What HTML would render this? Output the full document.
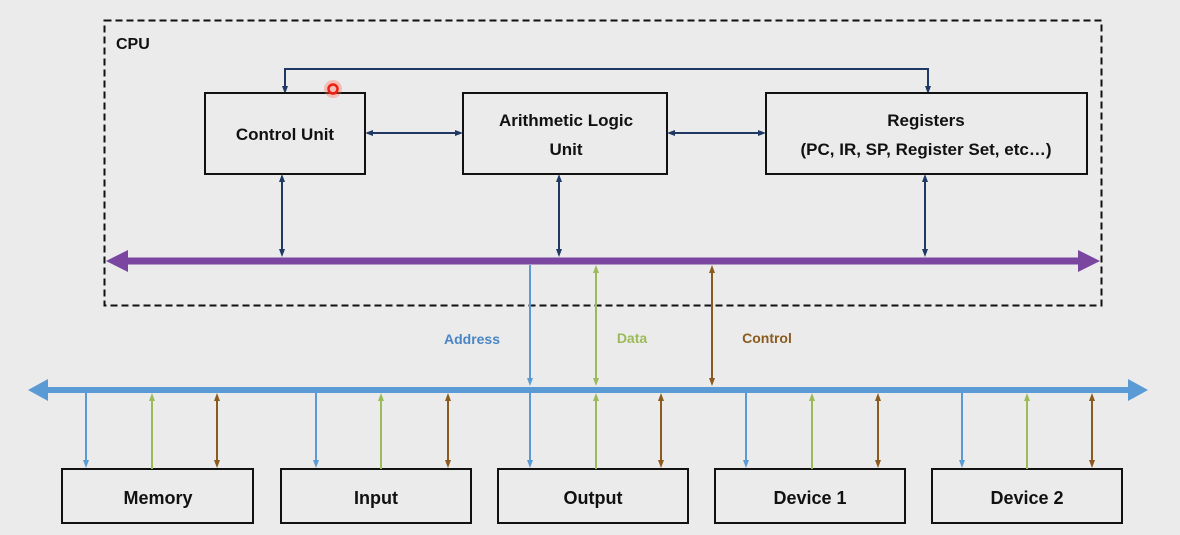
<!DOCTYPE html>
<html><head><meta charset="utf-8"><style>
html,body{margin:0;padding:0;background:#ebebeb;}
svg{display:block;}
text{font-family:"Liberation Sans",sans-serif;font-weight:bold;}
</style></head><body>
<svg width="1180" height="535" viewBox="0 0 1180 535" xmlns="http://www.w3.org/2000/svg">
<defs>
<marker id="n" markerWidth="8" markerHeight="8" refX="4" refY="4" orient="auto-start-reverse" markerUnits="userSpaceOnUse"><path d="M0,1 L8,4 L0,7 z" fill="#1f3864"/></marker>
<marker id="b" markerWidth="8" markerHeight="8" refX="4" refY="4" orient="auto-start-reverse" markerUnits="userSpaceOnUse"><path d="M0,1 L8,4 L0,7 z" fill="#5b9bd5"/></marker>
<marker id="g" markerWidth="8" markerHeight="8" refX="4" refY="4" orient="auto-start-reverse" markerUnits="userSpaceOnUse"><path d="M0,1 L8,4 L0,7 z" fill="#9bbb59"/></marker>
<marker id="r" markerWidth="8" markerHeight="8" refX="4" refY="4" orient="auto-start-reverse" markerUnits="userSpaceOnUse"><path d="M0,1 L8,4 L0,7 z" fill="#8b5a1e"/></marker>
</defs>
<rect x="0" y="0" width="1180" height="535" fill="#ebebeb"/>
<rect x="104.5" y="20.5" width="997" height="285" fill="none" stroke="#111" stroke-width="2" stroke-dasharray="7,4"/>
<text x="116" y="49" font-size="16" fill="#111">CPU</text>
<!-- top feedback -->
<path d="M285,90 L285,69 L928,69 L928,90" fill="none" stroke="#1f3864" stroke-width="2" marker-start="url(#n)" marker-end="url(#n)"/>
<g fill="none" stroke="#111" stroke-width="2">
<rect x="205" y="93" width="160" height="81"/>
<rect x="463" y="93" width="204" height="81"/>
<rect x="766" y="93" width="321" height="81"/>
</g>
<g font-size="17" fill="#111" text-anchor="middle">
<text x="285" y="140">Control Unit</text>
<text x="566" y="126">Arithmetic Logic</text>
<text x="566" y="155">Unit</text>
<text x="926" y="126">Registers</text>
<text x="926" y="155">(PC, IR, SP, Register Set, etc…)</text>
</g>
<g stroke="#1f3864" stroke-width="2">
<line x1="369" y1="133" x2="459" y2="133" marker-start="url(#n)" marker-end="url(#n)"/>
<line x1="671" y1="133" x2="762" y2="133" marker-start="url(#n)" marker-end="url(#n)"/>
<line x1="282" y1="178" x2="282" y2="253" marker-start="url(#n)" marker-end="url(#n)"/>
<line x1="559" y1="178" x2="559" y2="253" marker-start="url(#n)" marker-end="url(#n)"/>
<line x1="925" y1="178" x2="925" y2="253" marker-start="url(#n)" marker-end="url(#n)"/>
</g>
<!-- purple bus -->
<line x1="125" y1="261" x2="1082" y2="261" stroke="#7a46a0" stroke-width="7"/>
<path d="M106,261 L128,250 L128,272 z" fill="#7a46a0"/>
<path d="M1100,261 L1078,250 L1078,272 z" fill="#7a46a0"/>
<!-- cpu-to-bus lines -->
<line x1="530" y1="265" x2="530" y2="382" stroke="#5b9bd5" stroke-width="2" marker-end="url(#b)"/>
<line x1="596" y1="269" x2="596" y2="382" stroke="#9bbb59" stroke-width="2" marker-start="url(#g)" marker-end="url(#g)"/>
<line x1="712" y1="269" x2="712" y2="382" stroke="#8b5a1e" stroke-width="2" marker-start="url(#r)" marker-end="url(#r)"/>
<text x="472" y="344" font-size="14" fill="#4a86c5" text-anchor="middle">Address</text>
<text x="632" y="343" font-size="14" fill="#9bbb59" text-anchor="middle">Data</text>
<text x="767" y="343" font-size="14" fill="#8b5a1e" text-anchor="middle">Control</text>
<!-- blue bus -->
<line x1="48" y1="390" x2="1130" y2="390" stroke="#5b9bd5" stroke-width="6"/>
<path d="M28,390 L48,379 L48,401 z" fill="#5b9bd5"/>
<path d="M1148,390 L1128,379 L1128,401 z" fill="#5b9bd5"/>
<!-- bottom boxes -->
<g fill="none" stroke="#111" stroke-width="2">
<rect x="62" y="469" width="191" height="54"/>
<rect x="281" y="469" width="190" height="54"/>
<rect x="498" y="469" width="190" height="54"/>
<rect x="715" y="469" width="190" height="54"/>
<rect x="932" y="469" width="190" height="54"/>
</g>
<g font-size="18" fill="#111" text-anchor="middle">
<text x="158" y="504">Memory</text>
<text x="376" y="504">Input</text>
<text x="593" y="504">Output</text>
<text x="810" y="504">Device 1</text>
<text x="1027" y="504">Device 2</text>
</g>
<g stroke-width="2">
<g stroke="#5b9bd5">
<line x1="86" y1="393" x2="86" y2="464" marker-end="url(#b)"/>
<line x1="316" y1="393" x2="316" y2="464" marker-end="url(#b)"/>
<line x1="530" y1="393" x2="530" y2="464" marker-end="url(#b)"/>
<line x1="746" y1="393" x2="746" y2="464" marker-end="url(#b)"/>
<line x1="962" y1="393" x2="962" y2="464" marker-end="url(#b)"/>
</g>
<g stroke="#9bbb59">
<line x1="152" y1="469" x2="152" y2="397" marker-end="url(#g)"/>
<line x1="381" y1="469" x2="381" y2="397" marker-end="url(#g)"/>
<line x1="596" y1="469" x2="596" y2="397" marker-end="url(#g)"/>
<line x1="812" y1="469" x2="812" y2="397" marker-end="url(#g)"/>
<line x1="1027" y1="469" x2="1027" y2="397" marker-end="url(#g)"/>
</g>
<g stroke="#8b5a1e">
<line x1="217" y1="397" x2="217" y2="464" marker-start="url(#r)" marker-end="url(#r)"/>
<line x1="448" y1="397" x2="448" y2="464" marker-start="url(#r)" marker-end="url(#r)"/>
<line x1="661" y1="397" x2="661" y2="464" marker-start="url(#r)" marker-end="url(#r)"/>
<line x1="878" y1="397" x2="878" y2="464" marker-start="url(#r)" marker-end="url(#r)"/>
<line x1="1092" y1="397" x2="1092" y2="464" marker-start="url(#r)" marker-end="url(#r)"/>
</g>
</g>
<!-- red pointer -->
<circle cx="333" cy="89" r="9" fill="#ff6a5a" opacity="0.35"/>
<circle cx="333" cy="89" r="4.5" fill="none" stroke="#f02010" stroke-width="2.5"/>
</svg>
</body></html>
